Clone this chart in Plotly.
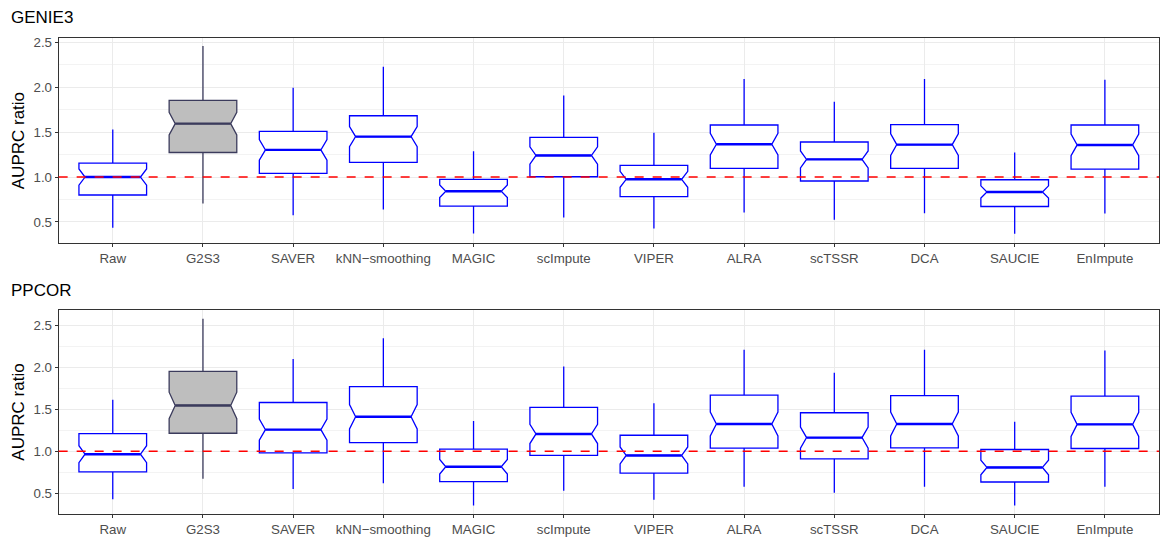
import plotly.graph_objects as go
from plotly.subplots import make_subplots

methods = ["Raw", "G2S3", "SAVER", "kNN\u2212smoothing", "MAGIC", "scImpute", "VIPER",
           "ALRA", "scTSSR", "DCA", "SAUCIE", "EnImpute"]

# GENIE3 panel
g_low = [0.436, 0.705, 0.576, 0.638, 0.373, 0.550, 0.428, 0.605, 0.524, 0.598, 0.369, 0.594]
g_q1 = [0.800, 1.273, 1.041, 1.163, 0.676, 1.003, 0.782, 1.096, 0.956, 1.096, 0.672, 1.088]
g_med = [1.000, 1.594, 1.302, 1.450, 0.842, 1.240, 0.975, 1.365, 1.196, 1.361, 0.834, 1.357]
g_q3 = [1.155, 1.852, 1.509, 1.682, 0.975, 1.442, 1.129, 1.579, 1.390, 1.583, 0.970, 1.579]
g_high = [1.528, 2.457, 1.992, 2.228, 1.288, 1.907, 1.494, 2.092, 1.837, 2.092, 1.273, 2.081]
g_notch = [0.090, 0.126, 0.114, 0.112, 0.070, 0.096, 0.089, 0.120, 0.094, 0.120, 0.068, 0.120]

# PPCOR panel
p_low = [0.427, 0.672, 0.549, 0.617, 0.351, 0.529, 0.419, 0.577, 0.505, 0.577, 0.351, 0.577]
p_q1 = [0.754, 1.214, 0.980, 1.103, 0.636, 0.949, 0.739, 1.036, 0.909, 1.040, 0.632, 1.032]
p_med = [0.964, 1.546, 1.257, 1.411, 0.814, 1.206, 0.949, 1.324, 1.162, 1.324, 0.806, 1.320]
p_q3 = [1.210, 1.953, 1.581, 1.771, 1.024, 1.522, 1.190, 1.668, 1.459, 1.664, 1.020, 1.656]
p_high = [1.613, 2.581, 2.100, 2.349, 1.359, 2.012, 1.573, 2.210, 1.937, 2.210, 1.352, 2.202]
p_notch = [0.101, 0.158, 0.125, 0.146, 0.087, 0.115, 0.101, 0.143, 0.125, 0.143, 0.087, 0.143]

ref_value = 1.0

panels = [
    ("GENIE3", g_low, g_q1, g_med, g_q3, g_high, g_notch, [0.262, 2.549]),
    ("PPCOR", p_low, p_q1, p_med, p_q3, p_high, p_notch, [0.245, 2.690]),
]

FONT = "Liberation Sans, Arial"
BOX_W = 0.75
NOTCH_W = 0.09
X_DOMAIN = [58.7 / 1160, 1.0]
fig = make_subplots(rows=2, cols=1)

for r, (name, lo, q1, med, q3, hi, nt, yr) in enumerate(panels, start=1):
    for i, m in enumerate(methods):
        hl = (m == "G2S3")
        col = "#3B3B5C" if hl else "#0000FF"
        fig.add_trace(go.Box(
            x=[m], q1=[q1[i]], median=[med[i]], q3=[q3[i]],
            lowerfence=[lo[i]], upperfence=[hi[i]], notchspan=[nt[i]],
            notched=True, notchwidth=NOTCH_W, width=BOX_W, whiskerwidth=0,
            boxpoints=False,
            fillcolor="#BEBEBE" if hl else "white",
            line=dict(color=col, width=1.3),
            showlegend=False, hoverinfo="skip",
        ), row=r, col=1)
        # emphasised median (ggplot draws it thicker)
        fig.add_trace(go.Box(
            x=[m], q1=[med[i]], median=[med[i]], q3=[med[i]],
            lowerfence=[med[i]], upperfence=[med[i]],
            width=BOX_W * (1 - 2 * NOTCH_W), whiskerwidth=0, boxpoints=False,
            fillcolor="rgba(0,0,0,0)", line=dict(color=col, width=2.4),
            showlegend=False, hoverinfo="skip",
        ), row=r, col=1)
    fig.update_yaxes(range=yr, row=r, col=1)

for yr_ in ("y", "y2"):
    fig.add_shape(type="line", xref="paper", yref=yr_, x0=X_DOMAIN[0], x1=X_DOMAIN[1],
                  y0=ref_value, y1=ref_value,
                  line=dict(color="#FF0000", width=1.5, dash="dash"), layer="above")

ydomains = [[1 - 241.7 / 540, 1 - 35 / 540], [1 - 514.3 / 540, 1 - 308.3 / 540]]
axis_common = dict(showline=True, linecolor="#333333", linewidth=1, mirror=True,
                   ticks="outside", ticklen=3, tickcolor="#333333",
                   gridcolor="#EBEBEB", gridwidth=1, zeroline=False,
                   tickfont=dict(family=FONT, size=13.3, color="#4D4D4D"))

for r in (1, 2):
    fig.update_xaxes(domain=X_DOMAIN, range=[-0.6, 11.6],
                     categoryorder="array", categoryarray=methods,
                     **axis_common, row=r, col=1)
    fig.update_yaxes(domain=ydomains[r - 1], tickvals=[0.5, 1.0, 1.5, 2.0, 2.5],
                     ticktext=["0.5", "1.0", "1.5", "2.0", "2.5"],
                     minor=dict(tickvals=[0.25, 0.75, 1.25, 1.75, 2.25],
                                showgrid=True, gridcolor="#F3F3F3", gridwidth=1, ticks=""),
                     title=dict(text="AUPRC ratio", standoff=4,
                                font=dict(family=FONT, size=17, color="black")),
                     **axis_common, row=r, col=1)

fig.add_annotation(text="GENIE3", xref="paper", yref="paper", x=9 / 1160, y=1 - 15 / 540,
                   xanchor="left", yanchor="middle", showarrow=False,
                   font=dict(family=FONT, size=17, color="black"))
fig.add_annotation(text="PPCOR", xref="paper", yref="paper", x=9 / 1160, y=1 - 289 / 540,
                   xanchor="left", yanchor="middle", showarrow=False,
                   font=dict(family=FONT, size=17, color="black"))

fig.update_layout(width=1160, height=540, margin=dict(l=0, r=0, t=0, b=0),
                  plot_bgcolor="white", paper_bgcolor="white", boxmode="overlay",
                  font=dict(family=FONT))

fig.write_html("out.html")
